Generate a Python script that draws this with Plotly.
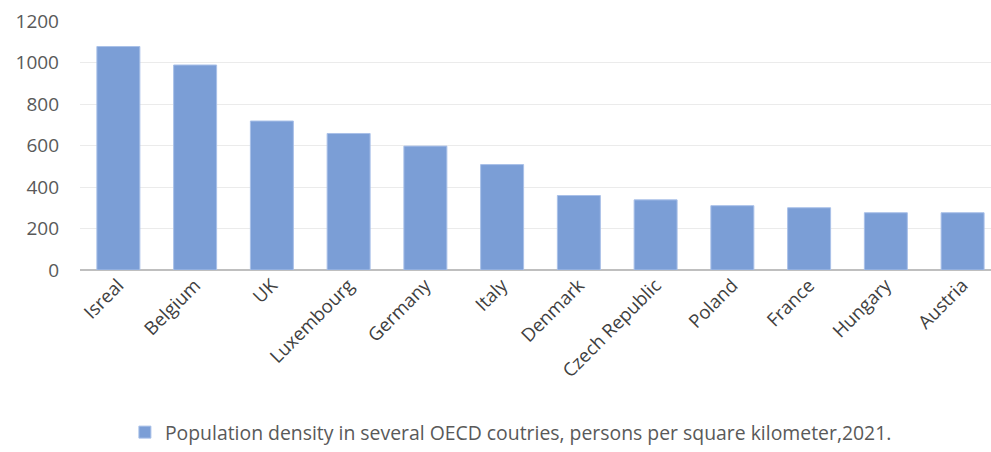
import plotly.graph_objects as go

countries = ["Isreal", "Belgium", "UK", "Luxembourg", "Germany", "Italy",
             "Denmark", "Czech Republic", "Poland", "France", "Hungary", "Austria"]
density = [1077, 988, 718, 658, 597, 508, 359, 338, 310, 300, 276, 276]
series_name = "Population density in several OECD coutries, persons per square kilometer,2021."
y_ticks = [0, 200, 400, 600, 800, 1000, 1200]

fig = go.Figure()
fig.add_trace(go.Bar(
    x=countries, y=density, name=series_name,
    marker=dict(color="#7B9ED6", line=dict(color="#A9C0E8", width=1)),
    showlegend=True,
))

FONT = "'Open Sans', Lato, sans-serif"
fig.update_layout(
    width=991, height=452,
    margin=dict(l=80, r=0, t=21, b=179),
    paper_bgcolor="white", plot_bgcolor="white",
    bargap=0.44,
    font=dict(family=FONT, color="#595959", size=17),
    xaxis=dict(
        range=[-0.5, 11.37],
        tickangle=-45,
        tickfont=dict(size=18.5, color="#404040"),
        showgrid=False,
        showline=False,
        ticks="",
    ),
    yaxis=dict(
        range=[0, 1200],
        tickvals=y_ticks,
        tickfont=dict(size=19, color="#595959"),
        showgrid=True, gridcolor="#EBEBEB", gridwidth=1,
        zeroline=True, zerolinecolor="#BFBFBF", zerolinewidth=2,
        ticks="", ticklabelstandoff=20,
    ),
    legend=dict(
        orientation="h", x=0.473, xanchor="center", y=-0.655, yanchor="middle",
        font=dict(size=19.4, color="#595959"),
    ),
)

fig.write_html("out.html")
